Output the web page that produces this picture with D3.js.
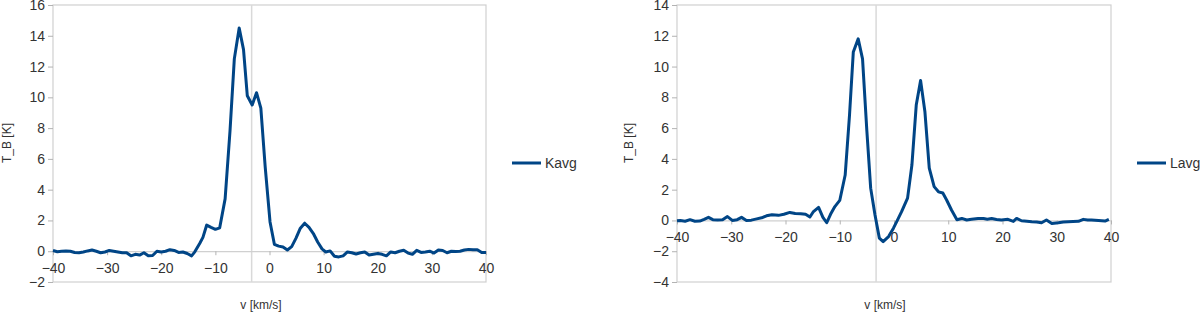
<!DOCTYPE html>
<meta charset="utf-8">
<script src="https://d3js.org/d3.v7.min.js"></script>
<style>
  body { margin: 0; background: #fff; }
  text { font-family: "Liberation Sans", Arial, sans-serif; fill: #333; }
</style>
<div id="chart"></div>
<script>

// spectra: [v km/s, T_B K]
var kavg = [[-40,0.05],[-39.2,-0.03],[-38.4,0],[-37.6,0.02],[-36.8,0],[-36,-0.08],[-35.2,-0.1],[-34.4,-0.05],
  [-33.6,0.02],[-32.8,0.08],[-32,0],[-31.2,-0.1],[-30.4,-0.05],[-29.6,0.05],[-28.8,0],[-28,-0.05],[-27.2,-0.1],
  [-26.4,-0.1],[-25.6,-0.3],[-24.8,-0.2],[-24,-0.25],[-23.2,-0.1],[-22.4,-0.3],[-21.6,-0.28],[-20.8,0],[-20,-0.05],
  [-19.2,0],[-18.4,0.1],[-17.6,0.05],[-16.8,-0.08],[-16,-0.05],[-15.2,-0.15],[-14.4,-0.3],[-13.8,-0.04],[-12.9,0.5],
  [-12.3,0.9],[-11.6,1.7],[-10.8,1.55],[-10,1.42],[-9.2,1.52],[-8.2,3.4],[-7.3,7.8],[-6.5,12.5],[-5.6,14.5],
  [-4.8,13.1],[-4.1,10.1],[-3.2,9.5],[-2.4,10.3],[-1.6,9.3],[-0.8,5.5],[0.1,1.9],[0.9,0.45],[1.7,0.33],[2.5,0.27],
  [3.3,0.08],[4.1,0.3],[4.9,0.85],[5.7,1.5],[6.5,1.82],[7.3,1.55],[8.1,1.15],[8.9,0.6],[9.7,0.15],[10.4,-0.05],
  [11.2,0.02],[12,-0.33],[12.8,-0.37],[13.6,-0.3],[14.4,-0.05],[15.2,-0.1],[16,-0.18],[16.8,-0.1],[17.6,-0.05],
  [18.4,-0.25],[19.2,-0.2],[20,-0.15],[20.8,-0.2],[21.6,-0.3],[22.4,-0.05],[23.2,-0.1],[24,0],[24.8,0.06],
  [25.6,-0.12],[26.4,-0.2],[27.2,0.06],[28,-0.08],[28.8,-0.05],[29.6,0],[30.4,-0.12],[31.2,0.08],[32,0.05],
  [32.8,-0.1],[33.6,0],[34.4,-0.02],[35.2,0],[36,0.08],[36.8,0.12],[37.6,0.1],[38.4,0.1],[39.2,-0.08],[40,-0.08]];

var lavg = [[-40,-0.02],[-39.4,0],[-38.5,-0.05],[-37.6,0.05],[-36.7,-0.05],[-35.8,-0.04],[-35,0.07],[-34.2,0.2],
  [-33.4,0.05],[-32.5,0.03],[-31.6,0.04],[-30.7,0.25],[-29.8,0],[-28.9,0.05],[-28.1,0.2],[-27.2,0],[-26.3,0.02],
  [-25.3,0.1],[-24.4,0.17],[-23.5,0.3],[-22.5,0.37],[-21.3,0.33],[-20.3,0.4],[-19.2,0.52],[-18.2,0.45],[-17.2,0.44],
  [-16.3,0.4],[-15.5,0.22],[-14.9,0.55],[-13.9,0.85],[-13.1,0.2],[-12.4,-0.15],[-11.7,0.4],[-10.9,0.9],[-10,1.3],
  [-9,2.95],[-8.2,6.85],[-7.5,10.95],[-6.6,11.8],[-5.8,10.5],[-5,5.8],[-4.3,2.1],[-3.5,0.35],[-2.7,-1.15],
  [-2,-1.38],[-1,-1.05],[-0.1,-0.5],[0.5,-0.08],[1.4,0.57],[2.5,1.45],[3.3,3.6],[4.1,7.5],[4.9,9.1],[5.7,7.06],
  [6.5,3.4],[7.4,2.2],[8.2,1.86],[9,1.78],[9.7,1.33],[10.6,0.68],[11.6,0.05],[12.5,0.13],[13.4,0.03],[14.3,0.08],
  [15.5,0.13],[16.5,0.12],[17.2,0.08],[18,0.12],[18.9,0.06],[19.8,0.03],[21,0.07],[22,-0.06],[22.6,0.13],
  [23.5,-0.02],[24.5,-0.05],[25.4,-0.08],[26.3,-0.1],[27.2,-0.15],[28.1,0.03],[29.1,-0.2],[30.3,-0.15],
  [31.2,-0.1],[32.1,-0.08],[33,-0.07],[34,-0.06],[34.9,0.07],[35.7,0.03],[36.4,0.03],[37.7,0],[38.9,-0.04],[39.6,0.07]];

var xTicks = [-40, -30, -20, -10, 0, 10, 20, 30, 40];
var kTicks = [-2, 0, 2, 4, 6, 8, 10, 12, 14, 16];
var lTicks = [-4, -2, 0, 2, 4, 6, 8, 10, 12, 14];
var vCross = -3.3;   // where the vertical axis line sits

var svg = d3.select("#chart").append("svg")
    .attr("width", 1200)
    .attr("height", 315);

function drawPanel(opt) {
  var x = d3.scaleLinear().domain([-40, 40]).range([opt.left, opt.right]);
  var y = d3.scaleLinear().domain(opt.yDomain).range([282, 5]);
  var g = svg.append("g");

  // plot frame
  g.append("rect")
    .attr("x", opt.left).attr("y", 5)
    .attr("width", opt.right - opt.left).attr("height", 277)
    .attr("fill", "none").attr("stroke", "#d0d0d0").attr("stroke-width", 1.2);

  // vertical axis line
  g.append("line")
    .attr("x1", x(vCross)).attr("x2", x(vCross))
    .attr("y1", 5).attr("y2", 282)
    .attr("stroke", "#d9d9d9").attr("stroke-width", 1.5);

  // y axis labels on the left edge
  var ya = g.append("g")
    .attr("transform", "translate(" + opt.left + ",0)")
    .call(d3.axisLeft(y).tickValues(opt.yTicks).tickSize(5).tickPadding(3));
  ya.select(".domain").remove();
  ya.selectAll("line").attr("stroke", "#b3b3b3");
  ya.selectAll("text").style("font-size", "14px").attr("fill", "#333");

  // x axis through zero
  var xa = g.append("g")
    .attr("transform", "translate(0," + y(0) + ")")
    .call(d3.axisBottom(x).tickValues(xTicks).tickSize(4).tickPadding(8).tickSizeOuter(0));
  xa.select(".domain").attr("stroke", "#d0d0d0").attr("stroke-width", 1.2);
  xa.selectAll("line").attr("stroke", "#b3b3b3");
  xa.selectAll("text").style("font-size", "14px").attr("fill", "#333");

  // the spectrum
  g.append("path")
    .datum(opt.data)
    .attr("fill", "none")
    .attr("stroke", "#004586")
    .attr("stroke-width", 3)
    .attr("stroke-linejoin", "round")
    .attr("d", d3.line().x(function(d) { return x(d[0]); }).y(function(d) { return y(d[1]); }));

  // axis titles
  g.append("text")
    .attr("transform", "translate(" + opt.yTitleX + ",143) rotate(-90)")
    .attr("text-anchor", "middle")
    .attr("dy", "0.35em")
    .style("font-size", "12px")
    .text("T_B [K]");
  g.append("text")
    .attr("x", opt.xTitleX).attr("y", 305)
    .attr("text-anchor", "middle")
    .attr("dy", "0.35em")
    .style("font-size", "12px")
    .text("v [km/s]");

  // legend
  g.append("line")
    .attr("x1", opt.legendX).attr("x2", opt.legendX + 29)
    .attr("y1", 163).attr("y2", 163)
    .attr("stroke", "#004586").attr("stroke-width", 3);
  g.append("text")
    .attr("x", opt.legendX + 33).attr("y", 163)
    .attr("dy", "0.35em")
    .style("font-size", "14px")
    .text(opt.name);
}

drawPanel({ data: kavg, name: "Kavg", left: 53, right: 486, yDomain: [-2, 16], yTicks: kTicks,
            yTitleX: 7, xTitleX: 261, legendX: 512 });
drawPanel({ data: lavg, name: "Lavg", left: 677, right: 1111, yDomain: [-4, 14], yTicks: lTicks,
            yTitleX: 629, xTitleX: 885, legendX: 1137 });

</script>
